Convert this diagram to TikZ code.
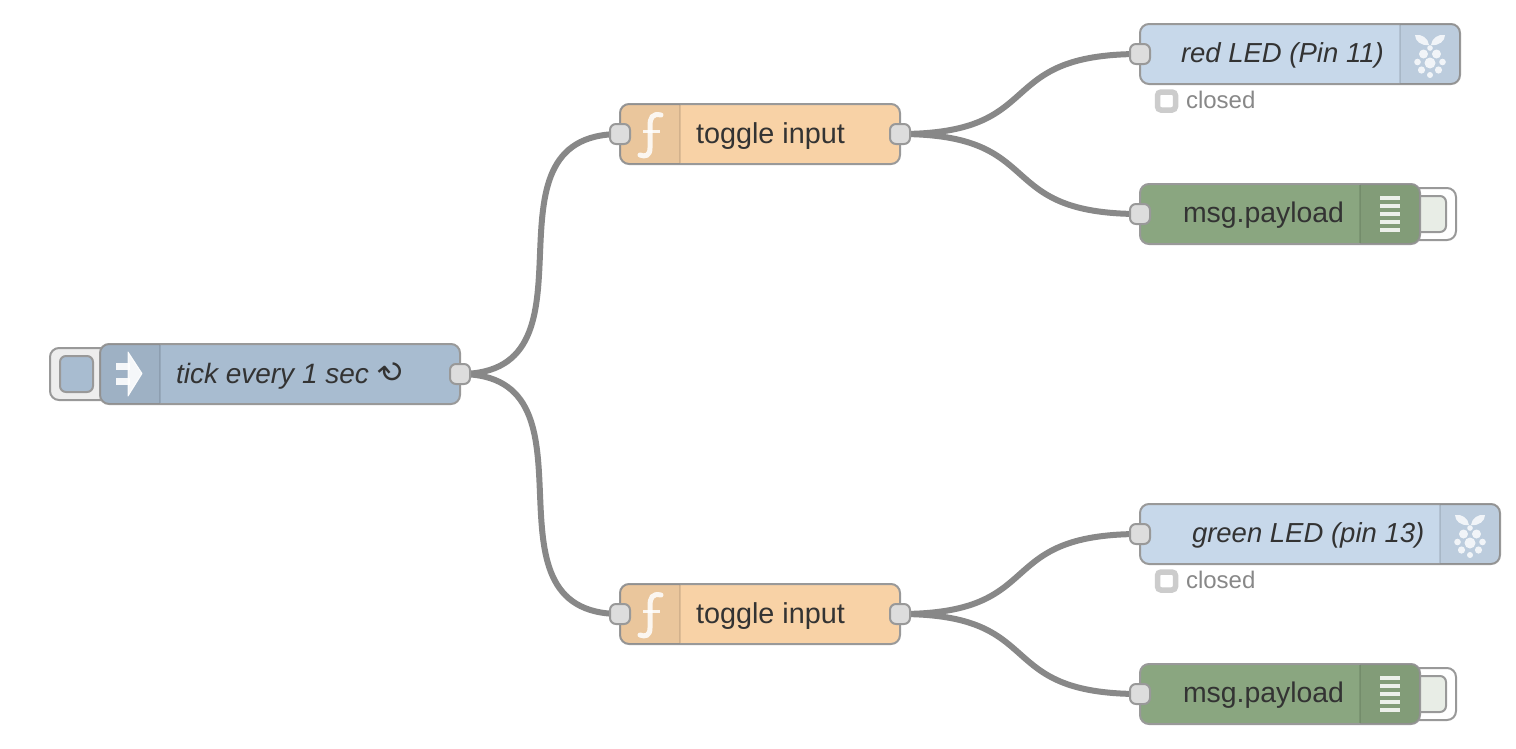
\documentclass[tikz,border=0pt]{standalone}
\usepackage{fontspec}
\setmainfont{Liberation Sans}
\newfontfamily\symfont{DejaVu Sans}
\pgfdeclarelayer{paper}
\pgfdeclarelayer{wires}
\pgfsetlayers{paper,wires,main}
\definecolor{injectc}{HTML}{A8BCD0}
\definecolor{funcc}{HTML}{F8D2A6}
\definecolor{rpic}{HTML}{C7D8EA}
\definecolor{debugc}{HTML}{8AA680}
\definecolor{edgec}{HTML}{999999}
\definecolor{wirec}{HTML}{888888}
\definecolor{portc}{HTML}{DDDDDD}
\definecolor{txtc}{HTML}{333333}
\tikzset{
  x=1pt,y=-1pt,
  nodebody/.style={draw=edgec,line width=2pt,rounded corners=9pt,inner sep=0pt,outer sep=0pt,minimum height=60pt},
  portbox/.style={draw=edgec,fill=portc,line width=2pt,rounded corners=6pt,inner sep=0pt,outer sep=0pt,minimum width=20pt,minimum height=20pt},
  wire/.style={draw=wirec,line width=6pt},
  label/.style={inner sep=0pt,outer sep=0pt,anchor=base west,text=txtc,font=\fontsize{28.4}{32}\selectfont},
  itlabel/.style={label,font=\fontsize{27.5}{32}\selectfont\itshape},
  statlabel/.style={inner sep=0pt,outer sep=0pt,anchor=base west,text=wirec,font=\fontsize{24}{28}\selectfont},
  statbox/.style={draw=black!20,fill=white,line width=5.5pt,rounded corners=3.5pt,inner sep=0pt,minimum size=18pt},
  btnouter/.style={draw=edgec,line width=2pt,rounded corners=9pt},
  btninner/.style={draw=edgec,line width=2pt,rounded corners=6pt},
  divline/.style={draw=black,draw opacity=.1,line width=1.5pt},
  iconw/.style={draw=white,draw opacity=.85,line width=5pt},
  berry/.style={fill=white,fill opacity=.8},
}
% shaded icon region: node box x0 y0 x1 y1, shaded from sx0 to sx1
\newcommand{\iconshade}[6]{%
  \begin{scope}
  \clip[rounded corners=9pt] (#1,#2) rectangle (#3,#4);
  \fill[black,fill opacity=.055] (#5,#2) rectangle (#6,#4);
  \end{scope}}
\newcommand{\funcicon}[1]{%
  \begin{scope}[shift={(0,#1)}]
  \draw[iconw,line cap=round] (661,-19) .. controls (652,-21) and (650,-16) .. (650,-8) -- (650,14) .. controls (650,22) and (645,23) .. (640,21);
  \draw[iconw,line width=2.5pt] (643,-2.5) -- (660,-2.5);
  \end{scope}}
\newcommand{\debugicon}[1]{%
  \foreach \dy in {-16,-8,0,8,16}{\draw[iconw,line width=3.5pt] (1380,#1+\dy) -- (1400,#1+\dy);}}
\newcommand{\piicon}[2]{%
  \begin{scope}[shift={(#1,#2)}]
  \fill[berry] (-1,-9) .. controls (-2,-16) and (-8,-20) .. (-15,-19) .. controls (-15,-13) and (-9,-8) .. (-1,-9) -- cycle;
  \fill[berry] (1,-9) .. controls (2,-16) and (8,-20) .. (15,-19) .. controls (15,-13) and (9,-8) .. (1,-9) -- cycle;
  \foreach \bx/\by/\br in {0/-6/2.8,-6.5/0/4.5,6.5/0/4.5,0/9/5.5,-12.5/8/3.3,12.5/8/3.3,-8.5/16/3.6,8.5/16/3.6,0/21/3}{
    \fill[berry] (\bx,\by) circle[radius=\br pt];}
  \end{scope}}
\begin{document}
\begin{tikzpicture}
\begin{pgfonlayer}{paper}
\useasboundingbox[fill=white] (0,0) rectangle (1516,748);
\end{pgfonlayer}

% inject button
\draw[btnouter,fill=black!7] (50,348) rectangle (112,400);
\draw[btninner,fill=injectc] (60,356) rectangle (93,392);
% inject node
\node[nodebody,fill=injectc,minimum width=360pt] (tick) at (280,374) {};
\iconshade{100}{344}{460}{404}{100}{160}
\draw[divline] (160,345) -- (160,403);
\draw[white,draw opacity=.9,fill=white,fill opacity=.9,line width=1pt,line join=round] (128,352) -- (142,373.5) -- (128,396) -- cycle;
\fill[white,opacity=.9] (116,363) rectangle (130,370);
\fill[white,opacity=.9] (116,378) rectangle (130,385);
\node[itlabel,font=\fontsize{28}{32}\selectfont\itshape] (ticklabel) at (176,383) {tick every 1 sec {\symfont\fontsize{30}{32}\selectfont\rotatebox[origin=c]{40}{\char"21BB}}};
\node[portbox] (tickout) at (460,374) {};

% functions
\node[nodebody,fill=funcc,minimum width=280pt] (fa) at (760,134) {};
\iconshade{620}{104}{900}{164}{620}{680}
\draw[divline] (680,105) -- (680,163);
\funcicon{134}
\node[label,font=\fontsize{28.8}{32}\selectfont] (falabel) at (696,143) {toggle input};
\node[portbox] (fain) at (620,134) {};
\node[portbox] (faout) at (900,134) {};

\node[nodebody,fill=funcc,minimum width=280pt] (fb) at (760,614) {};
\iconshade{620}{584}{900}{644}{620}{680}
\draw[divline] (680,585) -- (680,643);
\funcicon{614}
\node[label,font=\fontsize{28.8}{32}\selectfont] (fblabel) at (696,623) {toggle input};
\node[portbox] (fbin) at (620,614) {};
\node[portbox] (fbout) at (900,614) {};

% red LED
\node[nodebody,fill=rpic,minimum width=320pt] (red) at (1300,54) {};
\iconshade{1140}{24}{1460}{84}{1400}{1460}
\draw[divline] (1400,25) -- (1400,83);
\piicon{1430}{54}
\node[itlabel] (redlabel) at (1181,62) {red LED (Pin 11)};
\node[portbox] (redin) at (1140,54) {};
\node[statbox] (redstat) at (1166.5,101) {};
\node[statlabel] (redtext) at (1186,108) {closed};

% green LED
\node[nodebody,fill=rpic,minimum width=360pt] (green) at (1320,534) {};
\iconshade{1140}{504}{1500}{564}{1440}{1500}
\draw[divline] (1440,505) -- (1440,563);
\piicon{1470}{534}
\node[itlabel] (greenlabel) at (1192,542) {green LED (pin 13)};
\node[portbox] (greenin) at (1140,534) {};
\node[statbox] (greenstat) at (1166.5,581) {};
\node[statlabel] (greentext) at (1186,588) {closed};

% debug nodes
\draw[btnouter,fill=white] (1410,188) rectangle (1456,240);
\draw[btninner,fill=debugc!20!white] (1410,196) rectangle (1446,232);
\node[nodebody,fill=debugc,minimum width=280pt] (dbga) at (1280,214) {};
\iconshade{1140}{184}{1420}{244}{1360}{1420}
\draw[divline] (1360,185) -- (1360,243);
\debugicon{214}
\node[label] (dbgalabel) at (1183,222) {msg.payload};
\node[portbox] (dbgain) at (1140,214) {};

\draw[btnouter,fill=white] (1410,668) rectangle (1456,720);
\draw[btninner,fill=debugc!20!white] (1410,676) rectangle (1446,712);
\node[nodebody,fill=debugc,minimum width=280pt] (dbgb) at (1280,694) {};
\iconshade{1140}{664}{1420}{724}{1360}{1420}
\draw[divline] (1360,665) -- (1360,723);
\debugicon{694}
\node[label] (dbgblabel) at (1183,702) {msg.payload};
\node[portbox] (dbgbin) at (1140,694) {};

% wires
\begin{pgfonlayer}{wires}
\draw[wire] (tickout.center) .. controls +(150,0) and +(-150,0) .. (fain.center);
\draw[wire] (tickout.center) .. controls +(150,0) and +(-150,0) .. (fbin.center);
\draw[wire] (faout.center) .. controls +(150,0) and +(-150,0) .. (redin.center);
\draw[wire] (faout.center) .. controls +(150,0) and +(-150,0) .. (dbgain.center);
\draw[wire] (fbout.center) .. controls +(150,0) and +(-150,0) .. (greenin.center);
\draw[wire] (fbout.center) .. controls +(150,0) and +(-150,0) .. (dbgbin.center);
\end{pgfonlayer}
\end{tikzpicture}
\end{document}
